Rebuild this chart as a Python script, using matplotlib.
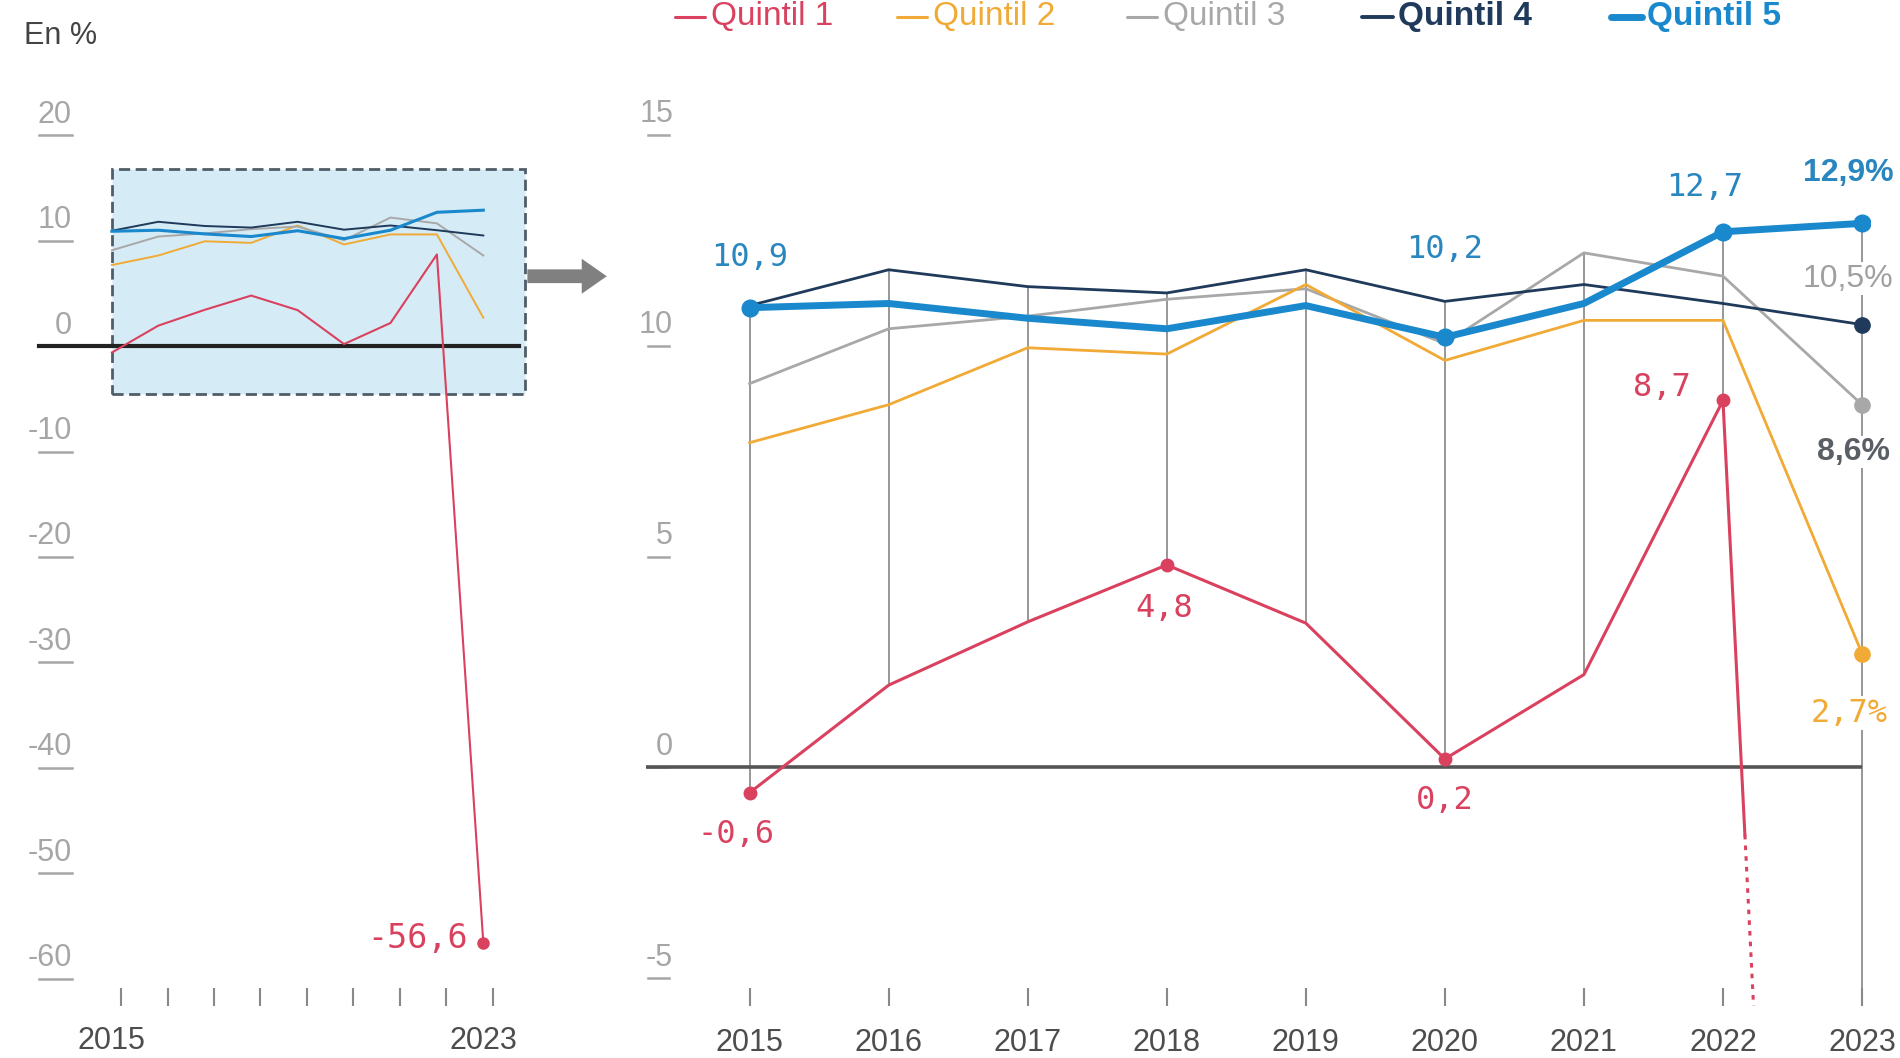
import numpy as np
import matplotlib.pyplot as plt
import matplotlib.transforms as mtransforms
from matplotlib.lines import Line2D
from matplotlib.patches import Rectangle, FancyArrowPatch

plt.rcParams['font.family'] = ['Liberation Sans', 'DejaVu Sans']

# data (en %)
years = np.arange(2015, 2024)
q1 = [-0.6, 1.95, 3.45, 4.8, 3.42, 0.2, 2.2, 8.7, -56.6]
q2 = [7.7, 8.6, 9.95, 9.8, 11.45, 9.65, 10.6, 10.6, 2.7]
q3 = [9.1, 10.4, 10.7, 11.1, 11.35, 10.05, 12.2, 11.65, 8.6]
q4 = [10.95, 11.8, 11.4, 11.25, 11.8, 11.05, 11.45, 11.0, 10.5]
q5 = [10.9, 11.0, 10.65, 10.4, 10.95, 10.2, 11.0, 12.7, 12.9]

series_names = ['Quintil 1', 'Quintil 2', 'Quintil 3', 'Quintil 4', 'Quintil 5']
colors = ['#d9415f', '#f0aa35', '#a8a8a8', '#1f3a5a', '#1a88cc']

left_yticks = [20, 10, 0, -10, -20, -30, -40, -50, -60]
right_yticks = [15, 10, 5, 0, -5]

TICK_GRAY = '#a6a6a6'
TEXT_DARK = '#4d4d4d'
MONO = 'DejaVu Sans Mono'

fig = plt.figure(figsize=(19, 10.58), dpi=100)
axl = fig.add_axes([0.0105, 0.0495, 0.2737, 0.847])
axr = fig.add_axes([0.3401, 0.0495, 0.6443, 0.847])

for ax in (axl, axr):
    for s in ax.spines.values():
        s.set_visible(False)
    ax.tick_params(axis='y', left=False, labelleft=False)


def ylabels(ax, ticks, x0, x1, xt):
    tr = ax.get_yaxis_transform()
    tr_txt = mtransforms.offset_copy(tr, fig=fig, y=4, units='points')
    for v in ticks:
        ax.plot([x0, x1], [v, v], transform=tr, color=TICK_GRAY, lw=1.8,
                clip_on=False, zorder=1)
        ax.text(xt, v, str(v), transform=tr_txt, ha='right', va='bottom',
                fontsize=22, color=TICK_GRAY)


# ---------------- left panel: full range ----------------
axl.set_xlim(2013.02, 2024.22)
axl.set_ylim(-62.55, 22.45)

axl.add_patch(Rectangle((2015.0, -4.5), 8.9, 21.3, facecolor='#d5ecf6',
                        edgecolor='#4f5d68', lw=2, ls=(0, (4, 2)), zorder=0))
axl.plot([2013.43, 2023.76], [0, 0], color='#222222', lw=3, zorder=2)

for vals, col in zip([q2, q3, q4, q5], colors[1:]):
    axl.plot(years, vals, color=col, lw=2.2 if col == colors[4] else 1.4,
             zorder=3)
axl.plot(years, q1, color=colors[0], lw=1.5, zorder=4,
         marker='o', ms=8, markevery=[len(years) - 1])
axl.annotate('-56,6', (years[-1], q1[-1]), xytext=(-11, 3),
             textcoords='offset points', ha='right', va='center',
             fontsize=24, color=colors[0], family=MONO)

ylabels(axl, left_yticks, 0.0365, 0.1, 0.1)

axl.set_xticks(years + 0.2)
axl.tick_params(axis='x', direction='in', length=13, width=1.5,
                color='#888888', labelbottom=False)
for yr in (years[0], years[-1]):
    axl.text(yr, -0.039, str(yr), transform=axl.get_xaxis_transform(),
             ha='center', va='center', fontsize=22, color=TEXT_DARK)

# ---------------- right panel: zoom ----------------
axr.set_xlim(2014.256, 2023.06)
axr.set_ylim(-5.65, 15.6)
ymin = axr.get_ylim()[0]

allv = np.array([q1, q2, q3, q4, q5])
highs = allv.max(axis=0)
lows = np.maximum(allv.min(axis=0), ymin)
axr.vlines(years, lows, highs, color='#8f8f8f', lw=1.3, zorder=1)
axr.hlines(0, axr.get_xlim()[0], years[-1], color='#555555', lw=2.6, zorder=2)

axr.plot(years, q3, color=colors[2], lw=2, zorder=3,
         marker='o', ms=11, markevery=[8])
axr.plot(years, q2, color=colors[1], lw=2, zorder=3,
         marker='o', ms=11, markevery=[8])
axr.plot(years, q4, color=colors[3], lw=2, zorder=3,
         marker='o', ms=11, markevery=[8])

# quintil 1: solid until the break, dotted beyond the frame
axr.plot(years[:-1], q1[:-1], color=colors[0], lw=2.2, zorder=4,
         marker='o', ms=9, markevery=[0, 3, 5, 7])
brk = -1.6
t = (q1[-2] - brk) / (q1[-2] - q1[-1])
x_brk = years[-2] + t
axr.plot([years[-2], x_brk], [q1[-2], brk], color=colors[0], lw=2.2, zorder=4)
axr.plot([x_brk, years[-1]], [brk, q1[-1]], color=colors[0], lw=2.2,
         ls=(0, (1.5, 2)), zorder=4)

axr.plot(years, q5, color=colors[4], lw=5, zorder=5, solid_joinstyle='round',
         marker='o', ms=12, markevery=[0, 5, 7, 8])

ylabels(axr, right_yticks, 0.0015, 0.0186, 0.022)

axr.set_xticks(years, [str(y) for y in years])
axr.tick_params(axis='x', direction='in', length=13, width=1.5,
                color='#888888', pad=16, labelsize=22, labelcolor=TEXT_DARK)

# value labels
blue_lab = '#2a86bf'
box = dict(facecolor='white', edgecolor='none', pad=1)
labels = [
    ('10,9', years[0], q5[0], 0, 36, blue_lab, MONO, 'normal'),
    ('10,2', years[5], q5[5], 0, 63, blue_lab, MONO, 'normal'),
    ('12,7', years[7], q5[7], -13, 32, blue_lab, MONO, 'normal'),
    ('12,9%', years[8], q5[8], -10, 36, blue_lab, None, 'bold'),
    ('10,5%', years[8], q4[8], -10, 33, '#a0a0a0', None, 'normal'),
    ('8,6%', years[8], q3[8], -6, -34, '#5a5f66', None, 'bold'),
    ('2,7%', years[8], q2[8], -9, -43, colors[1], MONO, 'normal'),
    ('8,7', years[7], q1[7], -44, 9, colors[0], MONO, 'normal'),
    ('4,8', years[3], q1[3], -2, -31, colors[0], MONO, 'normal'),
    ('0,2', years[5], q1[5], 0, -30, colors[0], MONO, 'normal'),
    ('-0,6', years[0], q1[0], -10, -30, colors[0], MONO, 'normal'),
]
for txt, x, y, dx, dy, col, fam, wt in labels:
    kw = dict(family=fam) if fam else {}
    axr.annotate(txt, (x, y), xytext=(dx, dy), textcoords='offset points',
                 ha='center', va='center', fontsize=23, color=col,
                 fontweight=wt, bbox=box, zorder=6, annotation_clip=False,
                 **kw)

# arrow from the box to the zoom
fig.patches.append(FancyArrowPatch(
    (0.2761, 0.7389), (0.3208, 0.7389), transform=fig.transFigure,
    arrowstyle='simple,head_length=1.0,head_width=1.4,tail_width=0.55',
    mutation_scale=18, color='#808080', lw=0))

# legend and unit
fig.text(0.0126, 0.966, 'En %', fontsize=22, color='#444444',
         ha='left', va='center')
leg_x = [0.355, 0.472, 0.593, 0.717, 0.848]
for name, col, x0 in zip(series_names, colors, leg_x):
    big = name.endswith('5')
    fig.add_artist(Line2D([x0, x0 + 0.016], [0.984, 0.984],
                          transform=fig.transFigure, color=col,
                          lw=5 if big else (2.8 if name.endswith('4') else 2.2),
                          solid_capstyle='round'))
    fig.text(x0 + 0.019, 0.984, name, fontsize=24, color=col, ha='left',
             va='center',
             fontweight='bold' if name[-1] in '45' else 'normal')

fig.savefig('out.png', dpi=100)
